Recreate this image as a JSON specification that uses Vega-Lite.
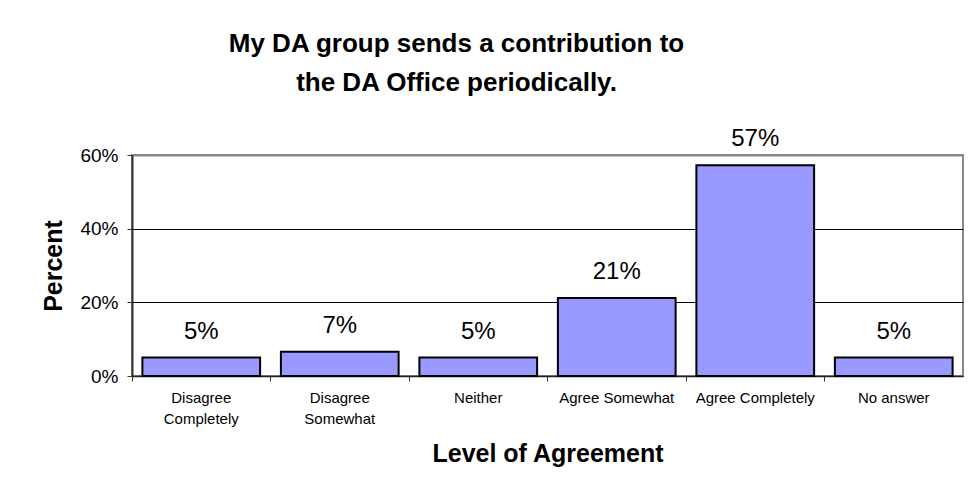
{
  "$schema": "https://vega.github.io/schema/vega-lite/v6.json",
  "autosize": {"type": "none"},
  "width": 831,
  "height": 221,
  "padding": {"left": 132, "top": 155, "right": 9, "bottom": 122},
  "background": "white",
  "title": {
    "text": ["My DA group sends a contribution to", "the DA Office periodically."],
    "font": "Liberation Sans",
    "fontSize": 26,
    "fontWeight": "bold",
    "color": "black",
    "lineHeight": 39,
    "anchor": "middle",
    "frame": "group",
    "dx": -91,
    "baseline": "bottom",
    "offset": 5
  },
  "data": {
    "values": [
      {"level": "Disagree Completely", "pct": 0.05},
      {"level": "Disagree Somewhat", "pct": 0.066},
      {"level": "Neither", "pct": 0.05},
      {"level": "Agree Somewhat", "pct": 0.212},
      {"level": "Agree Completely", "pct": 0.572},
      {"level": "No answer", "pct": 0.05}
    ]
  },
  "encoding": {
    "x": {
      "field": "level",
      "type": "nominal",
      "sort": null,
      "scale": {"paddingInner": 0, "paddingOuter": 0},
      "axis": {
        "title": "Level of Agreement",
        "titleFont": "Liberation Sans",
        "titleFontSize": 25,
        "titleFontWeight": "bold",
        "titleColor": "black",
        "titlePadding": 15,
        "labelAngle": 0,
        "labelFont": "Liberation Sans",
        "labelFontSize": 15,
        "labelColor": "black",
        "labelLineHeight": 21,
        "labelPadding": 9,
        "labelExpr": "datum.value == 'Disagree Completely' ? ['Disagree', 'Completely'] : datum.value == 'Disagree Somewhat' ? ['Disagree', 'Somewhat'] : datum.value",
        "bandPosition": 0,
        "tickSize": 5,
        "tickColor": "#333333",
        "tickWidth": 1,
        "domainColor": "#222222",
        "domainWidth": 1.5,
        "grid": false
      }
    },
    "y": {
      "field": "pct",
      "type": "quantitative",
      "scale": {"domain": [0, 0.6], "nice": false},
      "axis": {
        "title": "Percent",
        "titleFont": "Liberation Sans",
        "titleFontSize": 25,
        "titleFontWeight": "bold",
        "titleColor": "black",
        "titlePadding": 13,
        "values": [0, 0.2, 0.4, 0.6],
        "format": ".0%",
        "labelFont": "Liberation Sans",
        "labelFontSize": 19,
        "labelColor": "black",
        "labelPadding": 9,
        "tickSize": 5,
        "tickColor": "#333333",
        "domainColor": "#333333",
        "domainWidth": 2,
        "grid": true,
        "gridColor": {"condition": {"test": "datum.value >= 0.6", "value": "#888888"}, "value": "black"},
        "gridWidth": {"condition": {"test": "datum.value >= 0.6", "value": 2}, "value": 1}
      }
    }
  },
  "layer": [
    {
      "mark": {"type": "bar", "width": {"band": 0.85}, "fill": "#9999FF", "stroke": "black", "strokeWidth": 2}
    },
    {
      "mark": {"type": "text", "font": "Liberation Sans", "fontSize": 24, "color": "black", "baseline": "alphabetic", "dy": -19},
      "encoding": {
        "text": {"field": "pct", "type": "quantitative", "format": ".0%"}
      }
    }
  ],
  "config": {
    "view": {"stroke": "#888888", "strokeWidth": 2}
  }
}
